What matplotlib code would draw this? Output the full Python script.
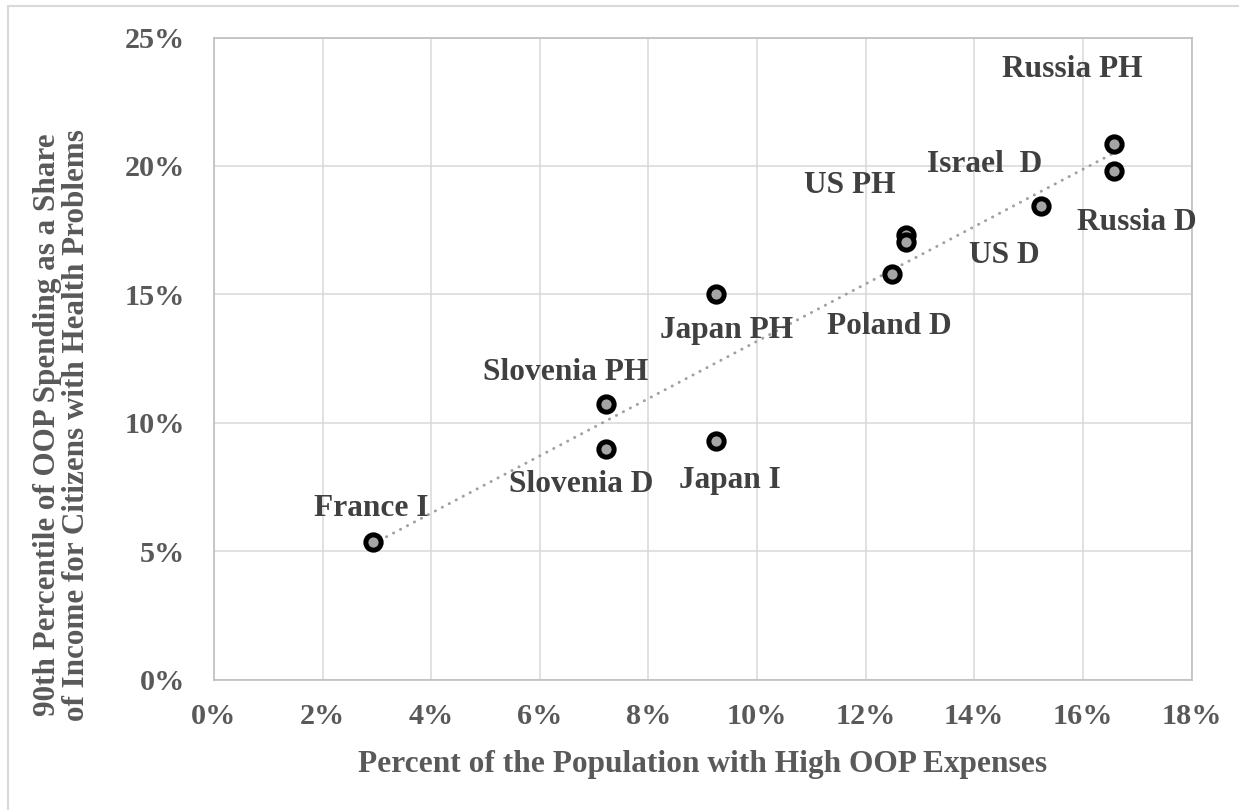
import numpy as np
import matplotlib
matplotlib.use("Agg")
import matplotlib.pyplot as plt
from matplotlib.ticker import FuncFormatter, MultipleLocator
from matplotlib.patches import Rectangle

plt.rcParams.update({
    "font.family": ["Liberation Serif", "DejaVu Serif"],
    "font.weight": "bold",
})

TICK_COLOR = "#595959"
LABEL_COLOR = "#404040"
GRID_COLOR = "#d9d9d9"
FRAME_COLOR = "#bfbfbf"
TREND_COLOR = "#a0a0a0"

# country / group labels with their (x, y) values in percent
labels = ["France I", "Slovenia PH", "Slovenia D", "Japan PH", "Japan I",
          "Poland D", "US PH", "US D", "Israel  D", "Russia PH", "Russia D"]
high_oop_pct = [2.92, 7.22, 7.22, 9.24, 9.24, 12.49, 12.75, 12.75, 15.22, 16.58, 16.58]
p90_share_pct = [5.36, 10.72, 8.97, 15.00, 9.29, 15.80, 17.30, 17.04, 18.42, 20.84, 19.79]

# hand-placed data label offsets (pixels, up is positive)
label_offsets = {
    "France I": (-1, 26),
    "Slovenia PH": (-40, 24),
    "Slovenia D": (-25, -43),
    "Japan PH": (11, -44),
    "Japan I": (14, -47),
    "Poland D": (-3, -60),
    "US PH": (-57, 42),
    "US D": (98, -21),
    "Israel  D": (-56, 34),
    "Russia PH": (-42, 67),
    "Russia D": (22, -59),
}

x = np.array(high_oop_pct)
y = np.array(p90_share_pct)

fig = plt.figure(figsize=(12.39, 8.10), dpi=100)
ax = fig.add_axes([0.1727, 0.1611, 0.7890, 0.7926])

# chart border
fig.patches.append(Rectangle((8 / 1239, -0.01), 1.0, 1.0 - 6 / 810 + 0.01,
                             transform=fig.transFigure, fill=False,
                             edgecolor="#d9d9d9", linewidth=1.5))

# linear trendline
slope, intercept = np.polyfit(x, y, 1)
xt = np.array([x.min(), x.max()])
ax.plot(xt, slope * xt + intercept, color=TREND_COLOR, linewidth=2.1,
        linestyle=(0, (0.1, 2.6)), dash_capstyle="round", zorder=3)

ax.plot(x, y, linestyle="none", marker="o", markersize=11,
        markerfacecolor="#a5a5a5", markeredgecolor="black",
        markeredgewidth=3.6, zorder=4)

for lab, xi, yi in zip(labels, x, y):
    dx, dy = label_offsets[lab]
    ax.annotate(lab, (xi, yi), xytext=(dx, dy), textcoords="offset pixels",
                ha="center", va="baseline", fontsize=22.6,
                fontweight="bold", color=LABEL_COLOR, zorder=5)

ax.set_xlim(0, 18)
ax.set_ylim(0, 25)
ax.xaxis.set_major_locator(MultipleLocator(2))
ax.yaxis.set_major_locator(MultipleLocator(5))
pct = FuncFormatter(lambda v, _: f"{v:.0f}%")
ax.xaxis.set_major_formatter(pct)
ax.yaxis.set_major_formatter(pct)

ax.grid(True, color=GRID_COLOR, linewidth=1.1)
ax.set_axisbelow(True)
for sp in ax.spines.values():
    sp.set_color(FRAME_COLOR)
    sp.set_linewidth(1.2)

ax.tick_params(axis="both", length=0, labelsize=21.8, labelcolor=TICK_COLOR)
ax.tick_params(axis="x", pad=17)
ax.tick_params(axis="y", pad=21)
for t in ax.get_xticklabels() + ax.get_yticklabels():
    t.set_fontweight("bold")

ax.set_xlabel("Percent of the Population with High OOP Expenses",
              fontsize=22.6, fontweight="bold", color=TICK_COLOR)
ax.xaxis.label.set_va("baseline")
ax.xaxis.set_label_coords(0.5, -0.1436)

ax.set_ylabel("90th Percentile of OOP Spending as a Share\n"
              "of Income for Citizens with Health Problems",
              fontsize=22.4, fontweight="bold", color=TICK_COLOR,
              linespacing=0.98)
ax.yaxis.label.set_va("center")
ax.yaxis.set_label_coords(-0.1555, 0.3964)

fig.savefig("out.png", dpi=100)
